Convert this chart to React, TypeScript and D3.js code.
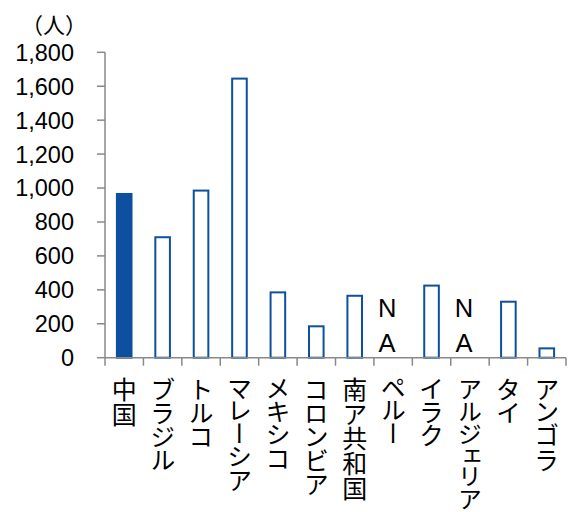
import React, { useLayoutEffect, useRef } from "react";
import * as d3 from "d3";

const categories = [
  "中国", "ブラジル", "トルコ", "マレーシア", "メキシコ", "コロンビア",
  "南ア共和国", "ペルー", "イラク", "アルジェリア", "タイ", "アンゴラ",
];
// null = no data (drawn as "NA")
const values: (number | null)[] = [965, 710, 985, 1645, 385, 185, 365, null, 425, null, 330, 55];
const highlighted = ["中国"];
const yTicks = [0, 200, 400, 600, 800, 1000, 1200, 1400, 1600, 1800];
const unitLabel = "（人）";

const W = 569;
const H = 512;
const left = 105;
const right = 566;
const top = 52.3;
const bottom = 357.7;
const blue = "#0E50A0";
const axisColor = "#898989";
const jpFont = "'Noto Sans CJK JP', 'Noto Sans', sans-serif";
const numFont = "'Liberation Sans', Arial, sans-serif";
const labelTop = 377;
const labelSize = 25;
const maxLabelLength = 132;

export default function App() {
  const labelsRef = useRef<SVGGElement>(null);
  const x = d3.scaleBand<string>().domain(categories).range([left, right]).paddingInner(0).paddingOuter(0);
  const y = d3.scaleLinear().domain([0, 1800]).range([bottom, top]);
  const bw = 14.6;
  const fmt = d3.format(",");
  const numSize = 23.5;
  const naSize = 25.5;

  // shrink any vertical label that would run past the bottom edge
  useLayoutEffect(() => {
    if (!labelsRef.current) return;
    d3.select(labelsRef.current)
      .selectAll<SVGTextElement, unknown>("text")
      .each(function () {
        const len = this.getComputedTextLength();
        if (len > maxLabelLength) {
          this.setAttribute("font-size", String((labelSize * maxLabelLength) / len));
        }
      });
  }, []);

  return (
    <svg width={W} height={H} style={{ position: "absolute", left: 0, top: 0 }} fontFamily={jpFont}>
      <rect width={W} height={H} fill="#fff" />
      <text x={54} y={33} fontSize={22} textAnchor="middle" fill="#000">{unitLabel}</text>

      {/* y axis */}
      <line x1={left} x2={left} y1={y(1800)} y2={bottom} stroke={axisColor} strokeWidth={1.5} />
      {yTicks.map((t) => (
        <g key={t}>
          <line x1={left - 8} x2={left} y1={y(t)} y2={y(t)} stroke={axisColor} strokeWidth={1.5} />
          <text x={74} y={y(t) + numSize * 0.358} fontSize={numSize} fontFamily={numFont} textAnchor="end" fill="#000">
            {fmt(t)}
          </text>
        </g>
      ))}

      {/* bars */}
      {categories.map((c, i) => {
        const v = values[i];
        const cx = x(c)! + x.bandwidth() / 2;
        if (v === null) {
          return (
            <g key={c} fontFamily={numFont} fontSize={naSize} fill="#000">
              <text x={cx - 6} y={307.7 + naSize * 0.358} textAnchor="middle">N</text>
              <text x={cx - 6} y={342.7 + naSize * 0.358} textAnchor="middle">A</text>
            </g>
          );
        }
        const filled = highlighted.includes(c);
        return (
          <rect
            key={c}
            x={cx - bw / 2}
            y={y(v)}
            width={bw}
            height={y(0) - y(v)}
            fill={filled ? blue : "#fff"}
            stroke={blue}
            strokeWidth={2}
          />
        );
      })}

      {/* x axis */}
      <line x1={left} x2={right} y1={bottom} y2={bottom} stroke={axisColor} strokeWidth={1.5} />
      {d3.range(categories.length + 1).map((i) => {
        const px = left + i * x.bandwidth();
        return <line key={i} x1={px} x2={px} y1={bottom} y2={bottom + 8} stroke={axisColor} strokeWidth={1.5} />;
      })}
      <g ref={labelsRef}>
        {categories.map((c) => (
          <text
            key={c}
            x={x(c)! + x.bandwidth() / 2}
            y={labelTop}
            fontSize={labelSize}
            fill="#000"
            style={{ writingMode: "vertical-rl" as any, fontFeatureSettings: '"vpal"' }}
          >
            {c}
          </text>
        ))}
      </g>
    </svg>
  );
}
